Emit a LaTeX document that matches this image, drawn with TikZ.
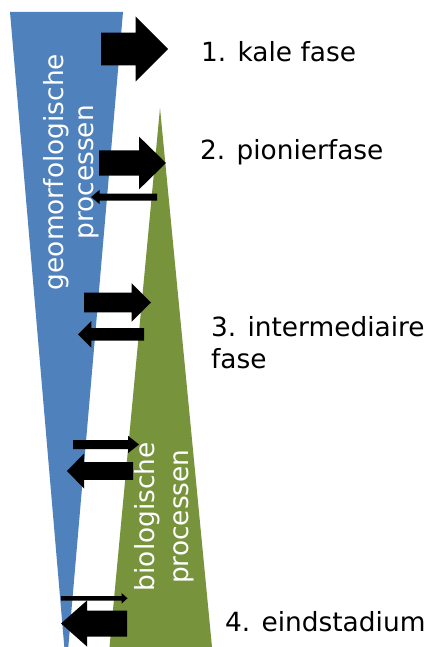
\documentclass[tikz,border=0pt]{standalone}
\usepackage{fontspec}
\setmainfont{DejaVu Sans}
\definecolor{geoblue}{RGB}{79,129,189}
\definecolor{bioolive}{RGB}{119,147,60}
\newcommand\blkarrow[7]{% name, tail x, tip x, y, shaft half, head half, head length (signed)
  \fill[black] ({#2},{#4-(#5)}) -- ({#3-(#7)},{#4-(#5)}) -- ({#3-(#7)},{#4-(#6)})
    -- ({#3},{#4}) coordinate (#1)
    -- ({#3-(#7)},{#4+(#6)}) -- ({#3-(#7)},{#4+(#5)}) -- ({#2},{#4+(#5)}) -- cycle;}
\begin{document}
\begin{tikzpicture}[x=1pt,y=-1pt,
  phase/.style={anchor=base west,inner sep=0pt,text=black,align=left,
    font=\fontsize{26.4}{31.4}\selectfont},
  proc/.style={anchor=base,rotate=90,inner sep=0pt,text=white,
    font=\fontsize{26.4}{31.4}\selectfont}]
\useasboundingbox (0,0) rectangle (428,647);
% wedges
\fill[geoblue] (10,12) -- (123,12) -- (68.3,647) -- (64.3,647) -- cycle;
\fill[bioolive] (160,108) -- (212,647) -- (109.5,647) -- cycle;
% rotated labels
\node[proc] (geo1) at (63.3,172) {geomorfologische};
\node[proc] (geo2) at (93.3,172.5) {processen};
\node[proc] (bio1) at (154.3,516.7) {biologische};
\node[proc] (bio2) at (188.3,516.7) {processen};
% phase labels
\node[phase] (p1) at (201,62) {1. kale fase};
\node[phase] (p2) at (200,159.3) {2. pionierfase};
\node[phase] (p3) at (211,368) {3. intermediaire\\fase};
\node[phase] (p4) at (225,631.7) {4. eindstadium};
% arrows
\blkarrow{a1}{101}{168}{49}{16.3}{32.5}{32.5}
\blkarrow{a2}{99}{166}{163}{12.7}{26.4}{27}
\blkarrow{a2b}{157}{91}{197}{3.5}{7}{-8.5}
\blkarrow{a3}{84}{151}{302.5}{9.8}{19.2}{19.3}
\blkarrow{a3b}{144}{78}{334.3}{6.3}{13.3}{-13.3}
\blkarrow{a4}{73}{139}{444.5}{4.5}{8.7}{11}
\blkarrow{a4b}{133}{67}{471}{8.8}{17.5}{-17}
\blkarrow{a5}{61}{127.5}{598.3}{2.3}{5.4}{6}
\blkarrow{a5b}{127}{61}{623.5}{13}{23}{-26}
\end{tikzpicture}
\end{document}
